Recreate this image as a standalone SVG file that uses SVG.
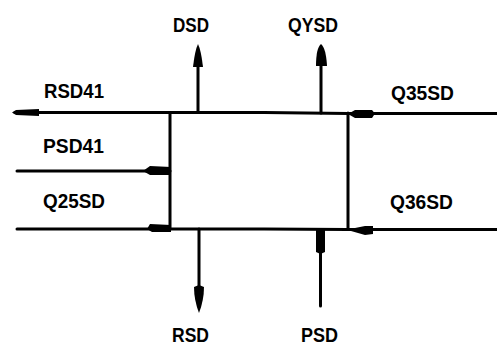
<svg xmlns="http://www.w3.org/2000/svg" width="497" height="347" viewBox="0 0 497 347">
<style>
.c{stroke:#000;stroke-width:3;fill:none;stroke-linecap:round}
.a{fill:#000;stroke:none}
text{font-family:"Liberation Sans",Arial,sans-serif;font-weight:bold;font-size:20px;fill:#000}
</style>
<rect width="497" height="347" fill="#fff"/>
<g id="connectors">
<path class="c" d="M15 112.500H264L348 113.500H497"/>
<path class="c" d="M17 171H170"/>
<path class="c" d="M17 229H264L348 229.500H497"/>
<path class="c" d="M198 112V66"/>
<path class="c" d="M321 113V66"/>
<path class="c" d="M199 229V288"/>
<path class="c" d="M320.500 306V230"/>
<path class="a" d="M12 112.500L16 110L39 109V116L16 115Z"/>
<path class="a" d="M198 44Q201 50 203 67H193Q195 50 198 44Z"/>
<path class="a" d="M321 44Q326 48 327 66H316Q316 48 321 44Z"/>
<path class="a" d="M372 110L375 113.500L372 118H355L348 114L355 110Z"/>
<path class="a" d="M171 167V175H150L143 171L150 166Z"/>
<path class="a" d="M171 225V232H152L147 229L150 224Z"/>
<path class="a" d="M199 313Q194 300 194 287L199 285L204 287Q204 300 199 313Z"/>
<path class="a" d="M373 226V234L365 235L351 231L350 229L365 226Z"/>
<path class="a" d="M316 228H325V252L320.500 254L316 252Z"/>
</g>
<g id="box"><path class="c" d="M170 113V229M348 113V229"/></g>
<g id="n-dsd"><text x="173" y="32" textLength="36" lengthAdjust="spacingAndGlyphs">DSD</text></g>
<g id="n-qysd"><text x="288" y="32" textLength="50" lengthAdjust="spacingAndGlyphs">QYSD</text></g>
<g id="n-rsd41"><text x="44" y="98" textLength="60" lengthAdjust="spacingAndGlyphs">RSD41</text></g>
<g id="n-psd41"><text x="43" y="153" textLength="61" lengthAdjust="spacingAndGlyphs">PSD41</text></g>
<g id="n-q25sd"><text x="43" y="208" textLength="62" lengthAdjust="spacingAndGlyphs">Q25SD</text></g>
<g id="n-q35sd"><text x="391" y="100" textLength="63" lengthAdjust="spacingAndGlyphs">Q35SD</text></g>
<g id="n-q36sd"><text x="390" y="209" textLength="63" lengthAdjust="spacingAndGlyphs">Q36SD</text></g>
<g id="n-rsd"><text x="172" y="342" textLength="37" lengthAdjust="spacingAndGlyphs">RSD</text></g>
<g id="n-psd"><text x="301" y="342" textLength="37" lengthAdjust="spacingAndGlyphs">PSD</text></g>
</svg>
